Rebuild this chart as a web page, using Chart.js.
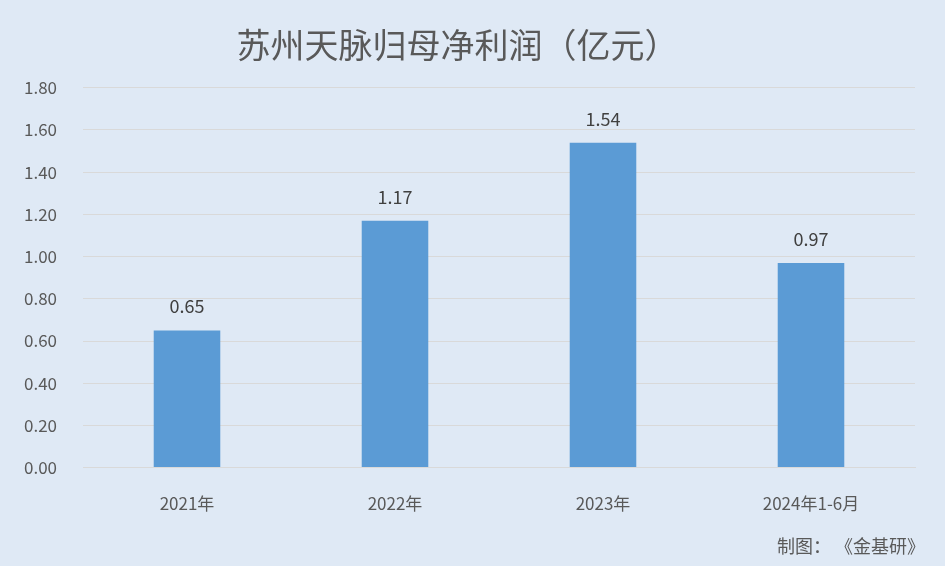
<!DOCTYPE html>
<html>
<head>
<meta charset="utf-8">
<script src="https://cdn.jsdelivr.net/npm/chart.js@4"></script>
<style>
  body { margin: 0; background: #dfe9f5; }
  #wrap { position: relative; width: 945px; height: 566px; background: #dfe9f5; }
  #note { position: absolute; right: 20px; top: 532px; font: 18px "Noto Sans CJK SC", sans-serif; color: #595959; white-space: pre; }
</style>
</head>
<body>
<div id="wrap">
  <canvas id="chart" width="945" height="566"></canvas>
  <div id="note">制图： 《金基研》</div>
</div>
<script>
const categories = ['2021年', '2022年', '2023年', '2024年1-6月'];
const profits = [0.65, 1.17, 1.54, 0.97];
const chartTitle = '苏州天脉归母净利润（亿元）';

const font = '"Noto Sans CJK SC", "Noto Sans", sans-serif';

// value labels above each bar
const valueLabels = {
  id: 'valueLabels',
  afterDatasetsDraw(chart) {
    const ctx = chart.ctx;
    const meta = chart.getDatasetMeta(0);
    ctx.save();
    ctx.font = '18px ' + font;
    ctx.fillStyle = '#404040';
    ctx.textAlign = 'center';
    ctx.textBaseline = 'middle';
    meta.data.forEach((bar, i) => {
      ctx.fillText(profits[i].toFixed(2), bar.x, bar.y - 24);
    });
    ctx.restore();
  }
};

new Chart(document.getElementById('chart'), {
  type: 'bar',
  data: {
    labels: categories,
    datasets: [{
      data: profits,
      backgroundColor: '#5b9bd5',
      categoryPercentage: 1,
      barPercentage: 0.32
    }]
  },
  options: {
    responsive: false,
    animation: false,
    layout: { padding: { left: 0, right: 30, top: 0, bottom: 34 } },
    plugins: {
      legend: { display: false },
      tooltip: { enabled: false },
      title: {
        display: true,
        text: chartTitle,
        color: '#595959',
        font: { family: font, size: 34, weight: 'normal' },
        padding: { top: 25, bottom: 22 }
      }
    },
    scales: {
      x: {
        grid: { display: false },
        border: { color: '#d9d9d9' },
        ticks: { color: '#595959', font: { family: font, size: 17 }, padding: 18 }
      },
      y: {
        min: 0,
        max: 1.8,
        afterFit(scale) { scale.width = 83; },
        grid: { color: '#d9d9d9', drawTicks: false },
        border: { display: false },
        ticks: {
          stepSize: 0.2,
          padding: 26,
          color: '#595959',
          font: { family: font, size: 17 },
          callback: v => v.toFixed(2)
        }
      }
    }
  },
  plugins: [valueLabels]
});
</script>
</body>
</html>
